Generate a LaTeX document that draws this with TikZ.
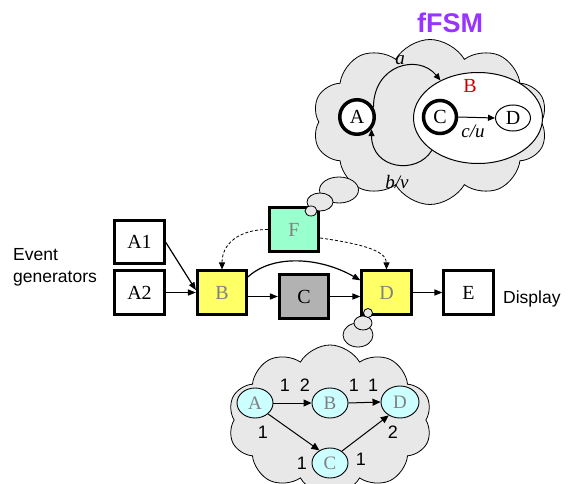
\documentclass[tikz,border=0pt]{standalone}
\usepackage{fontspec}
\setmainfont{Liberation Serif}
\setsansfont{Liberation Sans}
\usetikzlibrary{arrows.meta,shapes.symbols,shapes.geometric}

\definecolor{boxyellow}{RGB}{255,255,102}
\definecolor{boxmint}{RGB}{153,255,204}
\definecolor{boxgray}{RGB}{178,178,178}
\definecolor{cloudgray}{RGB}{232,232,232}
\definecolor{nodecyan}{RGB}{204,255,255}
\definecolor{labelgray}{RGB}{128,128,128}
\definecolor{fsmpurple}{RGB}{153,51,255}
\definecolor{statered}{RGB}{204,0,0}

\tikzset{
  block/.style={draw, line width=2.6pt, minimum width=49.5pt, minimum height=43.5pt,
    inner sep=0pt, font=\fontsize{20}{24}\selectfont},
  flow/.style={line width=1.2pt, -{Triangle[length=8pt,width=6pt]}},
  ctrl/.style={line width=0.8pt, dashed, dash pattern=on 3pt off 2pt,
    -{Triangle[length=7pt,width=6pt]}},
  thought/.style={cloud, cloud puffs=10, cloud puff arc=120, cloud ignores aspect,
    draw, line width=0.8pt, fill=cloudgray, inner sep=0pt},
  bubble/.style={draw, line width=0.8pt, fill=cloudgray},
  fsmstate/.style={circle, draw, fill=white, inner sep=0pt,
    font=\fontsize{20}{24}\selectfont},
  sdfactor/.style={ellipse, draw, line width=0.9pt, fill=nodecyan, inner sep=0pt,
    minimum width=36pt, minimum height=30pt, text=labelgray,
    font=\fontsize{19}{22}\selectfont},
  rate/.style={font=\sffamily\fontsize{18}{20}\selectfont, inner sep=0pt},
  edgelabel/.style={font=\itshape\fontsize{19}{22}\selectfont, inner sep=0pt},
  sdfedge/.style={line width=1pt, -{Triangle[length=8pt,width=7pt]}},
  fsmedge/.style={line width=1pt, -{Triangle[length=7pt,width=6pt]}}
}

\begin{document}
\begin{tikzpicture}[x=1pt, y=-1pt]
\useasboundingbox (0,0) rectangle (570,484);
\begin{scope}
\clip (0,0) rectangle (570,484);

% ---------- actor graph ----------
\node[block] (A1) at (139.5,242) {A1};
\node[block] (A2) at (139.5,292.5) {A2};
\node[block, fill=boxyellow, text=labelgray] (B) at (222,292.5) {B};
\node[block, fill=boxgray] (C) at (304,296.5) {C};
\node[block, fill=boxyellow, text=labelgray] (D) at (386.5,292.5) {D};
\node[block] (E) at (468.5,292.5) {E};
\node[block, fill=boxmint, text=labelgray] (F) at (294,229.5) {F};

\node[anchor=west, align=left, inner sep=0pt,
      font=\sffamily\fontsize{17.5}{22}\selectfont] (evgen) at (13,267) {Event\\generators};
\node[anchor=west, inner sep=0pt, font=\sffamily\fontsize{17.5}{21}\selectfont]
      (disp) at (503,299) {Display};

\draw[flow] (A1.east) -- (B.175);
\draw[flow] (A2.east) -- (B.west);
\draw[flow] (B.east |- C.west) -- (C.west);
\draw[flow] (C.east) -- (C.east -| D.west);
\draw[flow] (D.east) -- (E.west);
\draw[flow] (B.31) .. controls +(25,-23) and +(-40,-23) .. (D.155);
\draw[ctrl] (F.west) .. controls +(-30,0) and +(0,-25) .. (B.north);
\draw[ctrl] (F.-18) .. controls +(35,5) and +(0,-20) .. (D.north);

% ---------- refinement of F: hierarchical FSM ----------
\node[thought, minimum width=235pt, minimum height=165pt] (fsmcloud) at (430,122) {};
\node[bubble, ellipse, minimum width=39pt, minimum height=26pt, inner sep=0pt] (fb3) at (339,190) {};
\node[bubble, ellipse, minimum width=26pt, minimum height=18pt, inner sep=0pt] (fb2) at (320,202) {};
\node[bubble, ellipse, minimum width=12pt, minimum height=10pt, inner sep=0pt] (fb1) at (311,211) {};

\node[font=\sffamily\bfseries\fontsize{27}{30}\selectfont, text=fsmpurple, inner sep=0pt]
  (fsmtitle) at (450,23) {fFSM};

\node[ellipse, draw, line width=1pt, fill=white, minimum width=129pt,
      minimum height=91pt, inner sep=0pt] (sB) at (478,118) {};
\node[text=statered, font=\fontsize{20}{24}\selectfont, inner sep=0pt] (sBlabel) at (470,86) {B};
\node[fsmstate, line width=3.5pt, minimum size=34.5pt] (sA) at (357,117) {A};
\node[fsmstate, line width=3.5pt, minimum size=33pt] (sC) at (440,117) {C};
\node[fsmstate, ellipse, line width=1pt, minimum width=35pt, minimum height=26pt] (sD) at (513,118) {D};

\draw[fsmedge] (sC.east) -- (sD.west);
\node[edgelabel] (lcu) at (473,131) {c/u};
\draw[fsmedge] (sA.30) .. controls +(0,-43) and +(-22,-27) .. (sB.135);
\node[edgelabel] (la) at (400,60) {a};
\draw[fsmedge] (sB.215) .. controls +(-15,25) and +(0,40) .. (sA.-40);
\node[edgelabel] (lbv) at (397,182) {b/v};

% ---------- refinement of D: SDF graph ----------
\node[thought, minimum width=204pt, minimum height=150pt] (sdfcloud) at (330,420) {};
\node[bubble, ellipse, minimum width=30pt, minimum height=24pt, inner sep=0pt] (db3) at (358,335) {};
\node[bubble, ellipse, minimum width=18pt, minimum height=14pt, inner sep=0pt] (db2) at (363,323) {};
\node[bubble, circle, minimum size=9pt, inner sep=0pt] (db1) at (368,313) {};

\node[sdfactor] (cA) at (255,403) {A};
\node[sdfactor] (cB) at (330,403) {B};
\node[sdfactor, minimum width=38pt, minimum height=32pt] (cD) at (400,402) {D};
\node[sdfactor] (cC) at (330,463) {C};

\draw[sdfedge] (cA.east) -- (cB.west);
\draw[sdfedge] (cB.east) -- (cD.west);
\draw[sdfedge] (cA.-40) -- (cC.130);
\draw[sdfedge] (cC.45) -- (cD.-130);

\node[rate] (r1) at (285,385) {1};
\node[rate] (r2) at (305,385) {2};
\node[rate] (r3) at (354,385) {1};
\node[rate] (r4) at (373,385) {1};
\node[rate] (r5) at (263,432) {1};
\node[rate] (r6) at (393,432) {2};
\node[rate] (r7) at (302,463) {1};
\node[rate] (r8) at (361,459) {1};
\end{scope}
\end{tikzpicture}
\end{document}
